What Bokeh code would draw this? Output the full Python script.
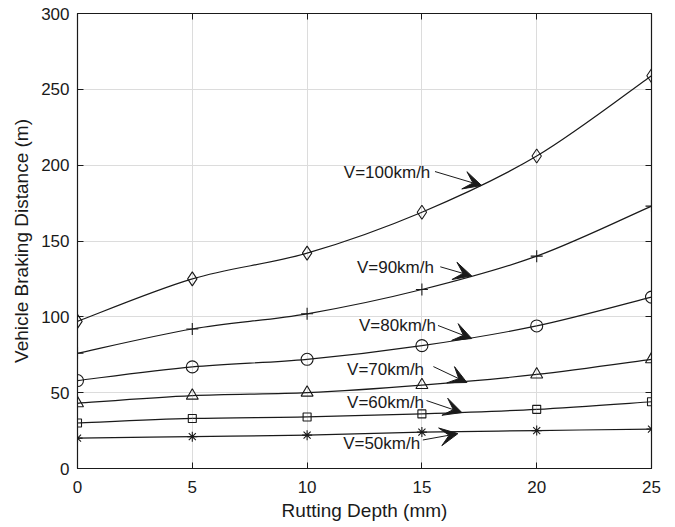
from bokeh.plotting import figure
from bokeh.models import Range1d, LinearAxis, FixedTicker, Label, Arrow, VeeHead
from bokeh.embed import file_html
from bokeh.resources import INLINE

# ---- data ----
rutting_depth = [0, 5, 10, 15, 20, 25]
v50 = [20, 21, 22, 24, 25, 26]
v60 = [30, 33, 34, 36, 39, 44]
v70 = [43, 48, 50, 55, 62, 72]
v80 = [58, 67, 72, 81, 94, 113]
v90 = [76, 92, 102, 118, 140, 173]
v100 = [97, 125, 142, 169, 206, 259]
series_labels = ["V=50km/h", "V=60km/h", "V=70km/h", "V=80km/h", "V=90km/h", "V=100km/h"]
x_ticks = [0, 5, 10, 15, 20, 25]
y_ticks = [0, 50, 100, 150, 200, 250, 300]

FONT = "Liberation Sans"
INK = "#1a1a1a"

p = figure(width=675, height=527, output_backend="svg", toolbar_location=None,
           x_range=Range1d(0, 25), y_range=Range1d(0, 300),
           min_border_left=77, min_border_right=24, min_border_top=13, min_border_bottom=59)
p.background_fill_color = "white"
p.border_fill_color = "white"
p.outline_line_color = INK
p.outline_line_width = 1.2

p.xgrid.grid_line_color = "#dcdcdc"
p.ygrid.grid_line_color = "#dcdcdc"

for ax, ticks in ((p.xaxis[0], x_ticks), (p.yaxis[0], y_ticks)):
    ax.ticker = FixedTicker(ticks=ticks)
    ax.major_tick_in = 6
    ax.major_tick_out = 0
    ax.minor_tick_line_color = None
    ax.axis_line_color = INK
    ax.major_tick_line_color = INK
    ax.major_label_text_font = FONT
    ax.major_label_text_font_size = "17px"
    ax.major_label_text_color = INK
    ax.axis_label_text_font = FONT
    ax.axis_label_text_font_size = "19px"
    ax.axis_label_text_font_style = "normal"
    ax.axis_label_text_color = INK
p.xaxis[0].axis_label = "Rutting Depth (mm)"
p.yaxis[0].axis_label = "Vehicle Braking Distance (m)"
p.xaxis[0].major_label_standoff = 12
p.yaxis[0].major_label_standoff = 8
p.xaxis[0].axis_label_standoff = 4
p.yaxis[0].axis_label_standoff = 6

for loc, ticks in (("right", y_ticks), ("above", x_ticks)):
    ax = LinearAxis(ticker=FixedTicker(ticks=ticks), major_tick_in=6, major_tick_out=0,
                    minor_tick_line_color=None, axis_line_color=INK,
                    major_tick_line_color=INK,
                    major_label_overrides={t: "" for t in ticks},
                    major_label_standoff=0)
    p.add_layout(ax, loc)


def smooth(xs, ys):
    n = len(xs)
    x0, y0, x1, y1, cx0, cy0, cx1, cy1 = [], [], [], [], [], [], [], []
    for i in range(n - 1):
        xa, ya = xs[max(i - 1, 0)], ys[max(i - 1, 0)]
        xb, yb = xs[i], ys[i]
        xc, yc = xs[i + 1], ys[i + 1]
        xd, yd = xs[min(i + 2, n - 1)], ys[min(i + 2, n - 1)]
        x0.append(xb); y0.append(yb); x1.append(xc); y1.append(yc)
        cx0.append(xb + (xc - xa) / 6); cy0.append(yb + (yc - ya) / 6)
        cx1.append(xc - (xd - xb) / 6); cy1.append(yc - (yd - yb) / 6)
    return dict(x0=x0, y0=y0, x1=x1, y1=y1, cx0=cx0, cy0=cy0, cx1=cx1, cy1=cy1)


series = [v50, v60, v70, v80, v90, v100]
markers = ["asterisk", "square", "triangle", "circle", "cross", "diamond"]
msizes = [10, 8, 12, 12, 12, 14]

for ys, mk, ms in zip(series, markers, msizes):
    p.bezier(line_color=INK, line_width=1.2, **smooth(rutting_depth, ys))
    p.scatter(rutting_depth, ys, marker=mk, size=ms, line_color=INK,
              fill_color=None, line_width=1.1)

# annotation layout (text left/center, arrow tail, arrow tip) in data units
label_pos = [(11.57, 16.5), (11.74, 43.5), (11.74, 65.3), (12.26, 94.3), (12.17, 132.5), (11.6, 195.0)]
tails = [(15.04, 18.8), (15.2, 44.8), (15.5, 67.2), (15.7, 94.3), (15.8, 133.0), (15.57, 195.8)]
tips = [(16.57, 23.0), (16.74, 36.9), (16.96, 56.7), (17.17, 85.7), (17.17, 127.0), (17.6, 186.6)]

for txt, (lx, ly), (tx, ty), (hx, hy) in zip(series_labels, label_pos, tails, tips):
    p.add_layout(Label(x=lx, y=ly, text=txt, text_font=FONT, text_font_size="17px",
                       text_color=INK, text_baseline="middle", text_align="left"))
    p.add_layout(Arrow(x_start=tx, y_start=ty, x_end=hx, y_end=hy, line_color=INK,
                       line_width=1.0,
                       end=VeeHead(size=18, fill_color=INK, line_color=INK, line_width=1)))

open("out.html", "w").write(file_html(p, INLINE))
